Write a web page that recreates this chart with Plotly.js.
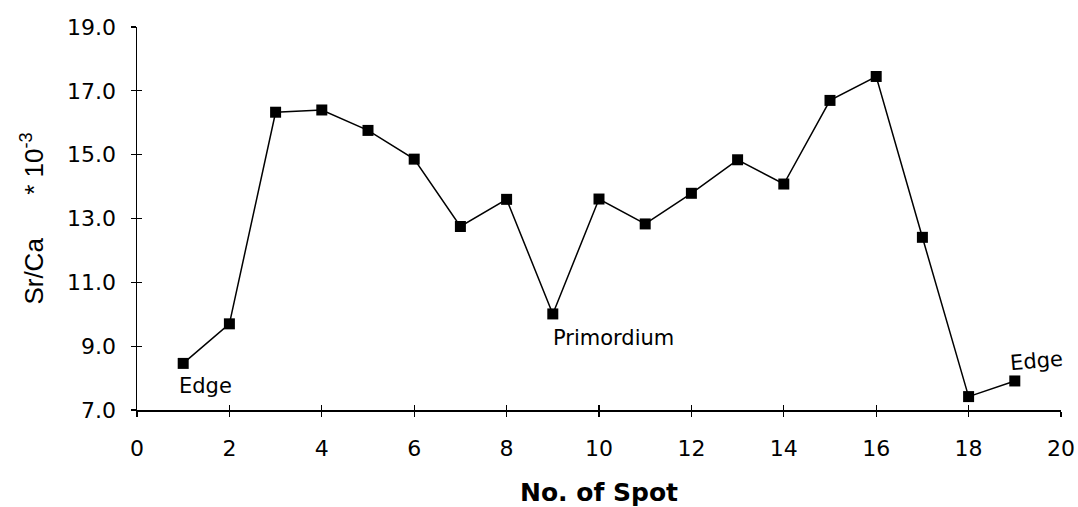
<!DOCTYPE html>
<html>
<head>
<meta charset="utf-8">
<script src="https://cdn.plot.ly/plotly-3.0.1.min.js"></script>
<style>
  html, body { margin: 0; padding: 0; background: #fff; }
  #chart { width: 1078px; height: 507px; }
</style>
</head>
<body>
<div id="chart"></div>
<script>
// Spot number along the otolith transect
const spots = [1, 2, 3, 4, 5, 6, 7, 8, 9, 10, 11, 12, 13, 14, 15, 16, 17, 18, 19];
// Sr/Ca ratio (* 10^-3)
const srCa = [8.46, 9.70, 16.33, 16.40, 15.76, 14.86, 12.75, 13.60, 10.01, 13.61, 12.83, 13.79, 14.84, 14.08, 16.70, 17.45, 12.41, 7.42, 7.91];
// Point labels
const labelText = ["Edge", "Primordium", "Edge"];
const labelX = [1.49, 10.32, 19.46];
const labelY = [7.75, 9.26, 8.54];
const labelAngle = [0, 0, -5];

const tickFont = { family: "DejaVu Sans, Liberation Sans, sans-serif", size: 22, color: "#000" };
const nb = "\u00A0";

const trace = {
  x: spots,
  y: srCa,
  type: "scatter",
  mode: "lines+markers",
  line: { color: "#000", width: 1.5 },
  marker: { symbol: "square", size: 11, color: "#000" },
  showlegend: false,
  hoverinfo: "x+y"
};

// empty trace so that the crossing (inside) tick axes are drawn
const tickTrace = { x: [], y: [], xaxis: "x2", yaxis: "y2", type: "scatter", mode: "markers", showlegend: false, hoverinfo: "skip" };

const annotations = labelText.map((t, i) => ({
  x: labelX[i], y: labelY[i], xref: "x", yref: "y",
  text: t, showarrow: false, textangle: labelAngle[i],
  font: { family: "DejaVu Sans, Liberation Sans, sans-serif", size: 21, color: "#000" }
}));

const layout = {
  width: 1078,
  height: 507,
  margin: { l: 137, r: 17, t: 27, b: 97 },
  paper_bgcolor: "#fff",
  plot_bgcolor: "#fff",
  xaxis: {
    range: [0, 20], dtick: 2, tick0: 0,
    showgrid: false, zeroline: false,
    showline: true, linecolor: "#000", linewidth: 1.5,
    ticks: "outside", ticklen: 5, tickwidth: 1.2, tickcolor: "#000",
    ticklabelstandoff: 13,
    tickfont: tickFont,
    title: { text: "No. of Spot", standoff: 25,
             font: { family: "DejaVu Sans, Liberation Sans, sans-serif", size: 25, color: "#000", weight: "bold" } }
  },
  xaxis2: {
    overlaying: "x", anchor: "y", side: "bottom", range: [0, 20], dtick: 2, tick0: 0,
    showgrid: false, zeroline: false, showline: false, showticklabels: false,
    ticks: "inside", ticklen: 5, tickwidth: 1.2, tickcolor: "#000"
  },
  yaxis: {
    range: [7, 19], dtick: 2, tick0: 7, tickformat: ".1f",
    showgrid: false, zeroline: false,
    showline: true, linecolor: "#000", linewidth: 1.5,
    ticks: "outside", ticklen: 5, tickwidth: 1.2, tickcolor: "#000",
    ticklabelstandoff: 10,
    tickfont: tickFont,
    title: { text: "Sr/Ca" + nb.repeat(6) + "* 10<sup>-3</sup>" + nb.repeat(4), standoff: 16,
             font: { family: "Liberation Sans, sans-serif", size: 26, color: "#000" } }
  },
  yaxis2: {
    overlaying: "y", anchor: "x", side: "left", range: [7, 19], dtick: 2, tick0: 7,
    showgrid: false, zeroline: false, showline: false, showticklabels: false,
    ticks: "inside", ticklen: 5, tickwidth: 1.2, tickcolor: "#000"
  },
  annotations: annotations
};

Plotly.newPlot("chart", [trace, tickTrace], layout, { displayModeBar: false, staticPlot: true });
</script>
</body>
</html>
